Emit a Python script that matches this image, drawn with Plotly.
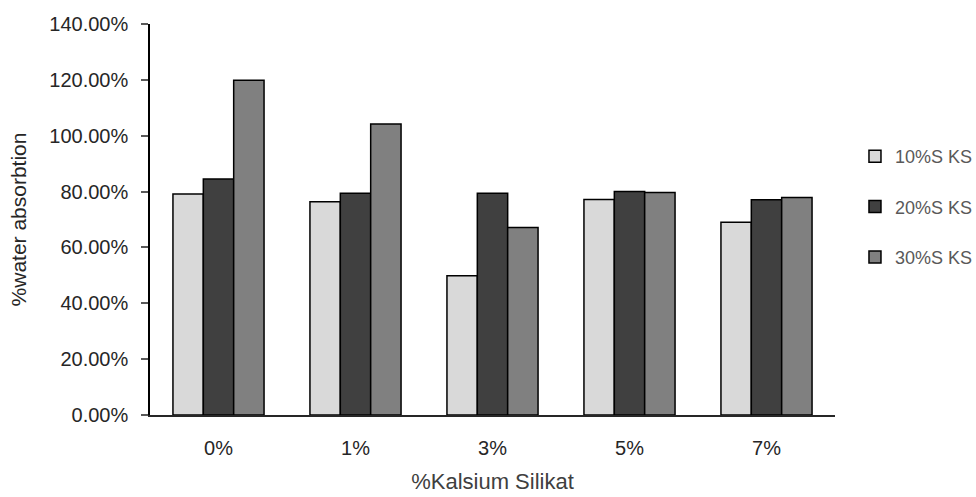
import plotly.graph_objects as go

# Calcium silicate content (x categories)
categories = ["0%", "1%", "3%", "5%", "7%"]

# Water absorption (fraction) for each filler loading series
series_names = ["10%S KS", "20%S KS", "30%S KS"]
absorb_10 = [0.791, 0.764, 0.499, 0.772, 0.690]
absorb_20 = [0.845, 0.794, 0.794, 0.800, 0.771]
absorb_30 = [1.199, 1.042, 0.671, 0.797, 0.779]
series_values = [absorb_10, absorb_20, absorb_30]
series_colors = ["#d9d9d9", "#404040", "#808080"]

y_tick_vals = [0, 0.2, 0.4, 0.6, 0.8, 1.0, 1.2, 1.4]

FONT = "Liberation Sans"

fig = go.Figure()
for i, (name, vals, col) in enumerate(zip(series_names, series_values, series_colors)):
    fig.add_trace(go.Bar(
        x=categories, y=vals, name=name,
        marker=dict(color=col, line=dict(color="#000000", width=1.5)),
        legendgroup=f"g{i}",
    ))

fig.update_layout(
    width=976, height=497,
    margin=dict(l=150, r=141, t=24, b=82, autoexpand=False),
    paper_bgcolor="white", plot_bgcolor="white",
    barmode="group", bargap=0.335, bargroupgap=0,
    font=dict(family=FONT, color="#404040", size=19),
    legend=dict(
        xref="container", yref="container",
        x=0.876, xanchor="left", y=0.5835, yanchor="middle",
        font=dict(family=FONT, size=18, color="#595959"),
        tracegroupgap=24, traceorder="grouped",
        itemwidth=30,
    ),
    xaxis=dict(
        showline=True, linecolor="#262626", linewidth=1.5,
        ticks="", showgrid=False, automargin=False,
        tickfont=dict(size=20, color="#262626"),
        ticklabelstandoff=14,
        title=dict(text="%Kalsium Silikat", font=dict(size=22, color="#404040"), standoff=16),
    ),
    yaxis=dict(
        range=[0, 1.4], tickvals=y_tick_vals, tickformat=".2%",
        showline=True, linecolor="#000000", linewidth=1.5,
        ticks="outside", ticklen=7, tickcolor="#595959", tickwidth=1.5,
        showgrid=False, zeroline=False, automargin=False,
        tickfont=dict(size=20, color="#262626"),
        ticklabelstandoff=9,
        title=dict(text="%water absorbtion", font=dict(size=21, color="#262626"), standoff=17),
    ),
)

fig.write_html("out.html")
